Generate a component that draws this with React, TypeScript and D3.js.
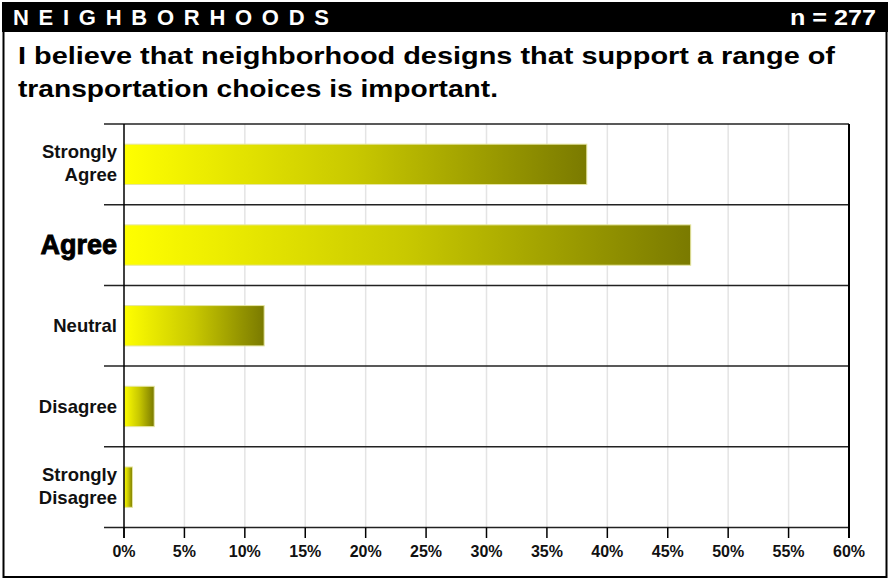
import React from "react";
import * as d3 from "d3";

const categories = ["Strongly Agree", "Agree", "Neutral", "Disagree", "Strongly Disagree"];
const labelLines = [["Strongly", "Agree"], ["Agree"], ["Neutral"], ["Disagree"], ["Strongly", "Disagree"]];
const values = [38.3, 46.9, 11.6, 2.5, 0.7];
const tickValues = [0, 5, 10, 15, 20, 25, 30, 35, 40, 45, 50, 55, 60];
const headerText = "NEIGHBORHOODS";
const nText = "n = 277";
const titleLines = ["I believe that neighborhood designs that support a range of", "transportation choices is important."];

const W = 888;
const H = 579;
const FONT = "'Liberation Sans', Arial, Helvetica, sans-serif";

export default function App() {
  const x = d3.scaleLinear().domain([0, 60]).range([124, 849]);
  const y = d3.scaleBand<string>().domain(categories).range([124, 527.5]).paddingInner(0);
  const bw = y.bandwidth();
  const barH = bw * 0.5;
  const bottom = 527.5;
  const top = 124;

  return (
    <svg width={W} height={H} style={{ position: "absolute", left: 0, top: 0, background: "#fff" }}>
      <defs>
        <linearGradient id="barGrad" x1="0" x2="1" y1="0" y2="0">
          <stop offset="0" stopColor="#ffff00" />
          <stop offset="0.5" stopColor="#c8c800" />
          <stop offset="1" stopColor="#7a7a00" />
        </linearGradient>
      </defs>
      {/* header */}
      <rect x={2} y={2} width={886} height={30} fill="#000" />
      <text x={13} y={24.5} fill="#fff" fontFamily={FONT} fontWeight="bold" fontSize={22}
        textLength={316} lengthAdjust="spacing">{headerText}</text>
      <text x={790} y={24.5} fill="#fff" fontFamily={FONT} fontWeight="bold" fontSize={22}
        textLength={86} lengthAdjust="spacingAndGlyphs">{nText}</text>
      {/* frame */}
      <path d={`M3.5,32 L3.5,577 L886.5,577 L886.5,32`} fill="none" stroke="#000" strokeWidth={2} />
      {/* title */}
      {titleLines.map((t, i) => (
        <text key={i} x={18} y={64 + i * 33} fontFamily={FONT} fontWeight="bold" fontSize={24}
          textLength={i === 0 ? 817 : 480} lengthAdjust="spacingAndGlyphs" fill="#000">{t}</text>
      ))}
      {/* gridlines */}
      {tickValues.slice(1, -1).map((t) => (
        <line key={t} x1={x(t)} x2={x(t)} y1={top} y2={bottom} stroke="#e4e4e4" strokeWidth={1.5} />
      ))}
      {/* bars */}
      {categories.map((c, i) => {
        const cy = (y(c) as number) + bw / 2;
        return (
          <rect key={c} x={x(0)} y={cy - barH / 2} width={x(values[i]) - x(0)} height={barH}
            fill="url(#barGrad)" stroke="#e6e6a0" strokeWidth={1} />
        );
      })}
      {/* separators */}
      {categories.map((c) => (
        <line key={c} x1={104} x2={849} y1={y(c) as number} y2={y(c) as number} stroke="#222" strokeWidth={1.5} />
      ))}
      <line x1={104} x2={849} y1={bottom} y2={bottom} stroke="#222" strokeWidth={1.5} />
      {/* left axis & right border */}
      <line x1={x(0)} x2={x(0)} y1={top} y2={538} stroke="#000" strokeWidth={1.5} />
      <line x1={x(60)} x2={x(60)} y1={top} y2={538} stroke="#000" strokeWidth={2} />
      {/* ticks */}
      {tickValues.map((t) => (
        <g key={t}>
          <line x1={x(t)} x2={x(t)} y1={bottom} y2={538} stroke="#000" strokeWidth={1.5} />
          <text x={x(t)} y={557} textAnchor="middle" fontFamily={FONT} fontWeight="bold" fontSize={16} fill="#111">{t}%</text>
        </g>
      ))}
      {/* category labels */}
      {categories.map((c, i) => {
        const cy = (y(c) as number) + bw / 2;
        const lines = labelLines[i];
        if (c === "Agree") {
          return (
            <text key={c} x={117} y={cy + 9} textAnchor="end" fontFamily={FONT} fontWeight="bold" fontSize={27}
              fill="#000" stroke="#000" strokeWidth={0.9}>{lines[0]}</text>
          );
        }
        if (lines.length === 1) {
          return (
            <text key={c} x={117} y={cy + 6.5} textAnchor="end" fontFamily={FONT} fontWeight="bold" fontSize={18.5} fill="#111">{lines[0]}</text>
          );
        }
        return (
          <text key={c} textAnchor="end" fontFamily={FONT} fontWeight="bold" fontSize={18.5} fill="#111">
            <tspan x={117} y={cy - 6.5}>{lines[0]}</tspan>
            <tspan x={117} y={cy + 16.5}>{lines[1]}</tspan>
          </text>
        );
      })}
    </svg>
  );
}
